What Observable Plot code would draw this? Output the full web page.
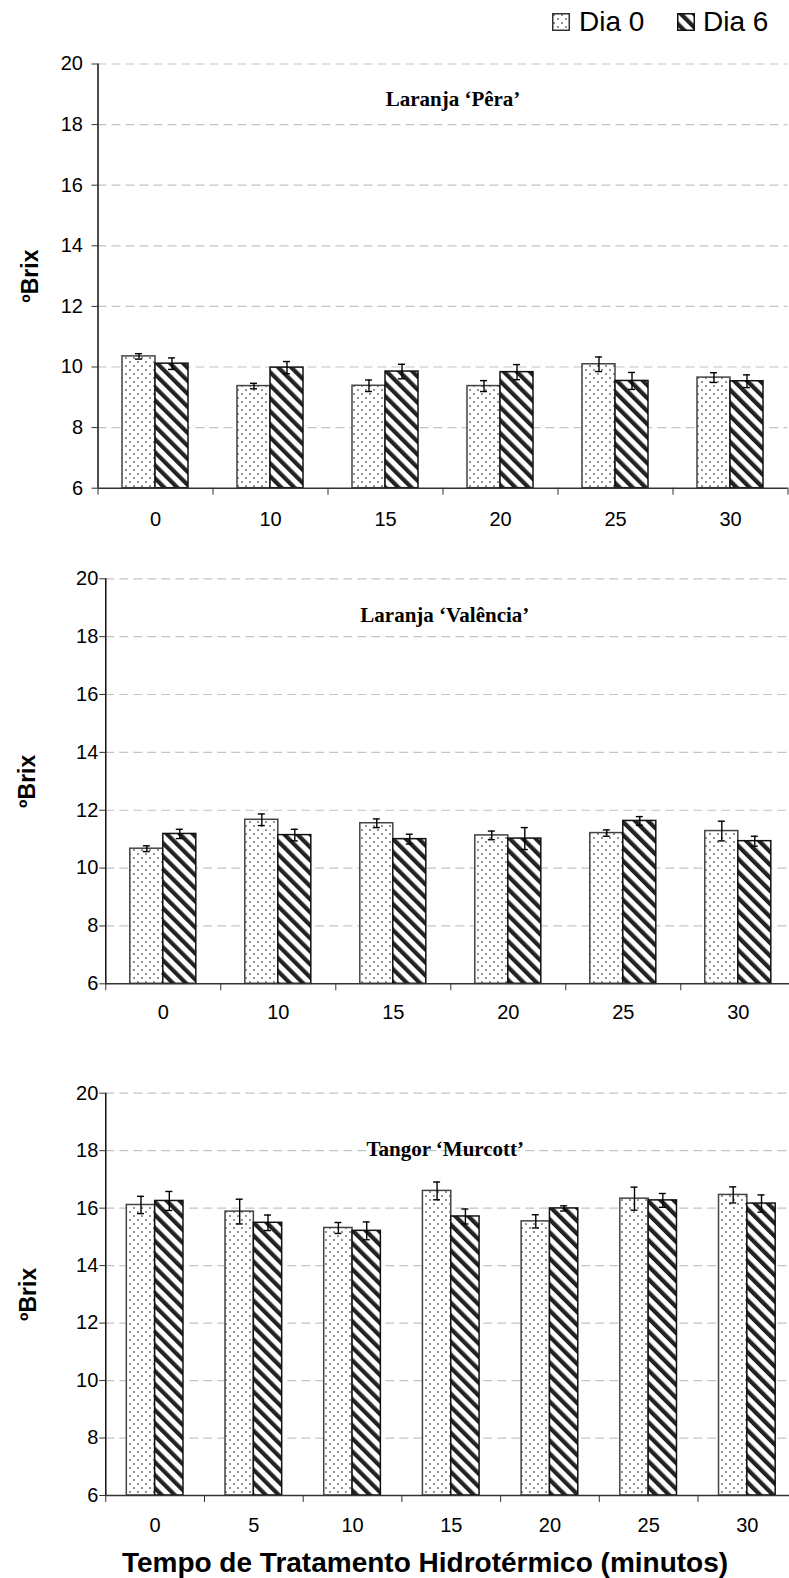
<!DOCTYPE html>
<html><head><meta charset="utf-8">
<script src="https://cdn.jsdelivr.net/npm/d3@7"></script>
<script src="https://cdn.jsdelivr.net/npm/@observablehq/plot@0.6"></script>
<style>
html,body{margin:0;padding:0;background:#fff;}
body{width:789px;height:1578px;overflow:hidden;font-family:"Liberation Sans",Arial,sans-serif;}
#root{position:relative;width:789px;height:1578px;overflow:hidden;}
.panel{position:absolute;left:0;}
.panel g[aria-label="y-axis tick label"], .panel g[aria-label="x-axis tick label"]{font-size:20px;font-family:"Liberation Sans",Arial,sans-serif;}
.leg{position:absolute;font-size:28px;line-height:1;color:#000;white-space:nowrap;}
.sw{position:absolute;width:18px;height:18px;}
#xtitle{position:absolute;left:0;width:850px;text-align:center;font-weight:bold;font-size:28px;line-height:28px;top:1549px;white-space:nowrap;}
</style></head><body>
<svg width="0" height="0" style="position:absolute">
<defs>
<pattern id="dots" patternUnits="userSpaceOnUse" width="8" height="8">
<rect width="8" height="8" fill="#fff"/>
<circle cx="2" cy="2" r="0.95" fill="#666"/>
<circle cx="6" cy="6" r="0.95" fill="#666"/>
</pattern>
<pattern id="stripes" patternUnits="userSpaceOnUse" width="9.2" height="9.2" patternTransform="rotate(-45)">
<rect width="9.2" height="9.2" fill="#fff"/>
<rect width="4.2" height="9.2" fill="#222"/>
</pattern>
</defs></svg>
<div id="root">
  <svg class="sw" style="left:552px;top:13px" viewBox="0 0 18 18"><rect x="0.75" y="0.75" width="16.5" height="16.5" fill="url(#dots)" stroke="#333" stroke-width="1.5"/></svg>
  <div class="leg" style="left:579px;top:8px">Dia 0</div>
  <svg class="sw" style="left:677px;top:13px" viewBox="0 0 18 18"><rect x="0.75" y="0.75" width="16.5" height="16.5" fill="url(#stripes)" stroke="#111" stroke-width="1.5"/></svg>
  <div class="leg" style="left:703px;top:8px">Dia 6</div>
  <div id="xtitle">Tempo de Tratamento Hidrotérmico (minutos)</div>
</div>
<script>
// ---- data ----
const series = ["Dia 0", "Dia 6"];
const yTicks = [6, 8, 10, 12, 14, 16, 18, 20];

const peraTitle = "Laranja ‘Pêra’";
const peraCats = ["0", "10", "15", "20", "25", "30"];
const peraDia0 = [10.35, 9.37, 9.38, 9.37, 10.09, 9.65];
const peraDia0Err = [0.09, 0.09, 0.19, 0.18, 0.24, 0.16];
const peraDia6 = [10.11, 9.98, 9.85, 9.83, 9.54, 9.53];
const peraDia6Err = [0.19, 0.20, 0.24, 0.25, 0.28, 0.21];

const valTitle = "Laranja ‘Valência’";
const valCats = ["0", "10", "15", "20", "25", "30"];
const valDia0 = [10.67, 11.67, 11.55, 11.13, 11.21, 11.28];
const valDia0Err = [0.10, 0.20, 0.15, 0.15, 0.11, 0.34];
const valDia6 = [11.18, 11.14, 11.00, 11.02, 11.63, 10.93];
const valDia6Err = [0.16, 0.20, 0.17, 0.38, 0.15, 0.17];

const murTitle = "Tangor ‘Murcott’";
const murCats = ["0", "5", "10", "15", "20", "25", "30"];
const murDia0 = [16.11, 15.88, 15.31, 16.60, 15.54, 16.33, 16.46];
const murDia0Err = [0.30, 0.43, 0.19, 0.31, 0.23, 0.40, 0.28];
const murDia6 = [16.25, 15.49, 15.21, 15.71, 15.99, 16.27, 16.16];
const murDia6Err = [0.33, 0.27, 0.31, 0.26, 0.09, 0.24, 0.30];

const fills = {"Dia 0": "url(#dots)", "Dia 6": "url(#stripes)"};
const strokes = {"Dia 0": "#444", "Dia 6": "#111"};

function panel(o) {
  const W = 789;
  const {cats} = o;
  const bw = (W - o.ml - o.mr) / cats.length;
  const frac = 0.287;
  const rows = cats.flatMap((c, i) => [
    {cat: c, s: series[0], v: o.d0[i], e: o.e0[i]},
    {cat: c, s: series[1], v: o.d6[i], e: o.e6[i]}
  ]);
  const outer = bw * (0.5 - frac), inner = bw * 0.5;
  const cap = 3.5;
  const marks = [
    Plot.gridY(yTicks.slice(1), {stroke: "#c4c4c4", strokeOpacity: 1, strokeDasharray: "9,5", strokeWidth: 1.2})
  ];
  series.forEach((s, k) => {
    const data = rows.filter(d => d.s === s);
    const c = k === 0 ? -bw * frac / 2 : bw * frac / 2;
    marks.push(
      Plot.barY(data, {x: "cat", y1: 6, y2: "v", fill: fills[s], stroke: strokes[s], strokeWidth: 1.5,
        insetLeft: k === 0 ? outer : inner, insetRight: k === 0 ? inner : outer}),
      Plot.ruleX(data, {x: "cat", y1: d => d.v - d.e, y2: d => d.v + d.e, dx: c, stroke: "#000", strokeWidth: 1.4}),
      Plot.tickY(data, {x: "cat", y: d => d.v + d.e, insetLeft: bw / 2 + c - cap, insetRight: bw / 2 - c - cap, stroke: "#000", strokeWidth: 1.4}),
      Plot.tickY(data, {x: "cat", y: d => d.v - d.e, insetLeft: bw / 2 + c - cap, insetRight: bw / 2 - c - cap, stroke: "#000", strokeWidth: 1.4})
    );
  });
  marks.push(
    Plot.ruleY([6], {stroke: "#333", strokeWidth: 1.4}),
    Plot.ruleX([cats[0]], {dx: -bw / 2, stroke: "#000", strokeWidth: 1.4}),
    Plot.axisY({ticks: yTicks, tickSize: 6, tickPadding: o.yPad, label: null, stroke: "#333", fontSize: 20}),
    Plot.axisX({tickSize: 7, dx: -bw / 2, tickFormat: () => "", label: null, stroke: "#333"}),
    Plot.axisX({ticks: [cats[cats.length - 1]], tickSize: 7, dx: bw / 2, tickFormat: () => "", label: null, stroke: "#333"}),
    Plot.axisX({tickSize: 0, tickPadding: o.xPad, label: null, fontSize: 20}),
    Plot.text(["ºBrix"], {frameAnchor: "left", dx: o.ylx - o.ml, rotate: -90, textAnchor: "middle", lineAnchor: "middle",
      fontWeight: "bold", fontSize: 23}),
    Plot.text([o.title], {frameAnchor: "top", dx: o.tdx, dy: o.tdy, lineAnchor: "middle", textAnchor: "middle",
      fontFamily: "'Liberation Serif','Times New Roman',serif", fontWeight: "bold", fontSize: 21})
  );
  const chart = Plot.plot({
    width: W, height: o.height,
    marginLeft: o.ml, marginRight: o.mr, marginTop: o.mt, marginBottom: o.mb,
    x: {type: "band", domain: cats, padding: 0, round: false, axis: null, label: null},
    y: {domain: [6, 20], axis: null, label: null},
    style: {fontFamily: "'Liberation Sans',Arial,sans-serif", fontSize: "20px", color: "#000", background: "transparent", overflow: "visible"},
    marks
  });
  chart.classList.add("panel");
  chart.style.top = o.top + "px";
  document.getElementById("root").appendChild(chart);
}

panel({top: 40, height: 500, ml: 97.5, mr: 1.5, mt: 23.5, mb: 52.3, cats: peraCats,
  d0: peraDia0, e0: peraDia0Err, d6: peraDia6, e6: peraDia6Err, title: peraTitle,
  tdx: 10, tdy: 35, xPad: 24, yPad: 9, ylx: 30});
panel({top: 540, height: 490, ml: 105.3, mr: -6.3, mt: 38.3, mb: 46.7, cats: valCats,
  d0: valDia0, e0: valDia0Err, d6: valDia6, e6: valDia6Err, title: valTitle,
  tdx: -6, tdy: 36, xPad: 21, yPad: 1.5, ylx: 27});
panel({top: 1050, height: 528, ml: 105.3, mr: -7.2, mt: 42.7, mb: 83, cats: murCats,
  d0: murDia0, e0: murDia0Err, d6: murDia6, e6: murDia6Err, title: murTitle,
  tdx: -6, tdy: 55.6, xPad: 22.5, yPad: 1.5, ylx: 28});
</script>
</body></html>
